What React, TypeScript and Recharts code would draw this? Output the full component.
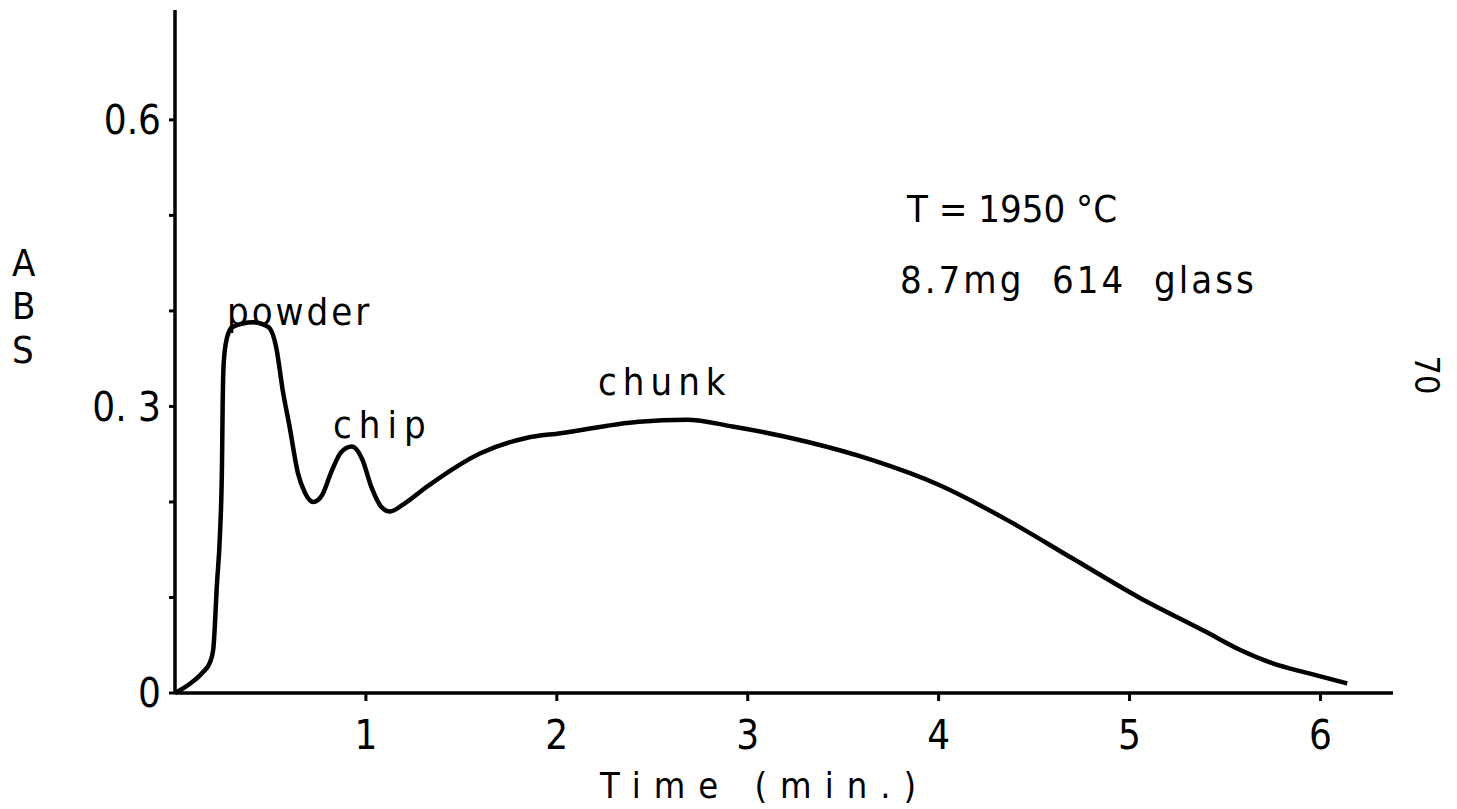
import { Line, LineChart, XAxis, YAxis } from "recharts"

// Time (min.) and absorbance
const times = [
	0, 0.08, 0.147, 0.183, 0.2, 0.22, 0.236, 0.246, 0.25, 0.255, 0.27, 0.3,
	0.41, 0.49, 0.53, 0.565, 0.6, 0.644, 0.68, 0.725, 0.77, 0.82, 0.87, 0.927,
	0.98, 1.03, 1.08, 1.126, 1.2, 1.32, 1.6, 1.84, 2.02, 2.43, 2.68, 2.92, 3.31,
	3.65, 4.0, 4.36, 4.7, 5.05, 5.4, 5.58, 5.75, 5.93, 6.14,
]
const absorbance = [
	0, 0.01, 0.022, 0.032, 0.045, 0.115, 0.168, 0.237, 0.307, 0.345, 0.37,
	0.383, 0.388, 0.383, 0.362, 0.316, 0.279, 0.23, 0.21, 0.2, 0.207, 0.232,
	0.252, 0.258, 0.245, 0.215, 0.195, 0.19, 0.198, 0.216, 0.251, 0.267, 0.272,
	0.284, 0.286, 0.279, 0.263, 0.244, 0.218, 0.181, 0.141, 0.1, 0.064, 0.045,
	0.031, 0.021, 0.01,
]

const xTicks = [1, 2, 3, 4, 5, 6]
const yTicks = [0, 0.1, 0.2, 0.3, 0.4, 0.5, 0.6]
const yTickLabels: Record<string, string> = { "0": "0", "0.3": "0. 3", "0.6": "0.6" }

const chartData = times.map((t, i) => ({ t, abs: absorbance[i] }))

const font = "'DejaVu Sans Condensed', 'DejaVu Sans', sans-serif"

export default function App() {
	return (
		<div
			style={{
				position: "absolute",
				left: 0,
				top: 0,
				width: 1457,
				height: 809,
				background: "#fff",
				fontFamily: font,
			}}
		>
			<LineChart
				width={1457}
				height={809}
				data={chartData}
				margin={{ top: 10, right: 64, bottom: 56, left: 115 }}
			>
				<XAxis
					dataKey='t'
					type='number'
					domain={[0, 6.38]}
					ticks={xTicks}
					height={60}
					axisLine={{ stroke: "#000", strokeWidth: 3.5 }}
					tickLine={{ stroke: "#000", strokeWidth: 3 }}
					tickSize={8}
					tickMargin={20}
					tick={{ fill: "#000", fontSize: 40, fontFamily: font }}
					interval={0}
				/>
				<YAxis
					type='number'
					domain={[0, 0.715]}
					ticks={yTicks}
					width={60}
					axisLine={{ stroke: "#000", strokeWidth: 3.5 }}
					tickLine={{ stroke: "#000", strokeWidth: 3 }}
					tickSize={6}
					tickMargin={8}
					tick={{ fill: "#000", fontSize: 40, fontFamily: font }}
					tickFormatter={(v: number) => yTickLabels[String(v)] ?? ""}
					interval={0}
				/>
				<Line
					dataKey='abs'
					type='monotone'
					stroke='#000'
					strokeWidth={4.5}
					dot={false}
					isAnimationActive={false}
				/>
			</LineChart>

			<svg
				width={1457}
				height={809}
				style={{ position: "absolute", left: 0, top: 0, pointerEvents: "none" }}
				fontFamily={font}
				fill='#000'
			>
				<text x={12} y={276} fontSize={38}>A</text>
				<text x={12} y={319} fontSize={38}>B</text>
				<text x={12} y={363} fontSize={38}>S</text>
				<text x={227} y={325} fontSize={38} letterSpacing={3}>powder</text>
				<text x={333} y={438} fontSize={38} letterSpacing={7}>chip</text>
				<text x={598} y={395} fontSize={38} letterSpacing={6}>chunk</text>
				<text x={907} y={222} fontSize={38} letterSpacing={0} style={{ whiteSpace: "pre" }}>
					T = 1950 °C
				</text>
				<text x={900} y={293} fontSize={38} letterSpacing={3} style={{ whiteSpace: "pre" }}>
					8.7mg  614  glass
				</text>
				<text x={600} y={798} fontSize={36} letterSpacing={13}>Time (min.)</text>
				<text x={1415} y={375} fontSize={34} transform='rotate(90 1415 375)' textAnchor='middle'>
					70
				</text>
			</svg>
		</div>
	)
}
